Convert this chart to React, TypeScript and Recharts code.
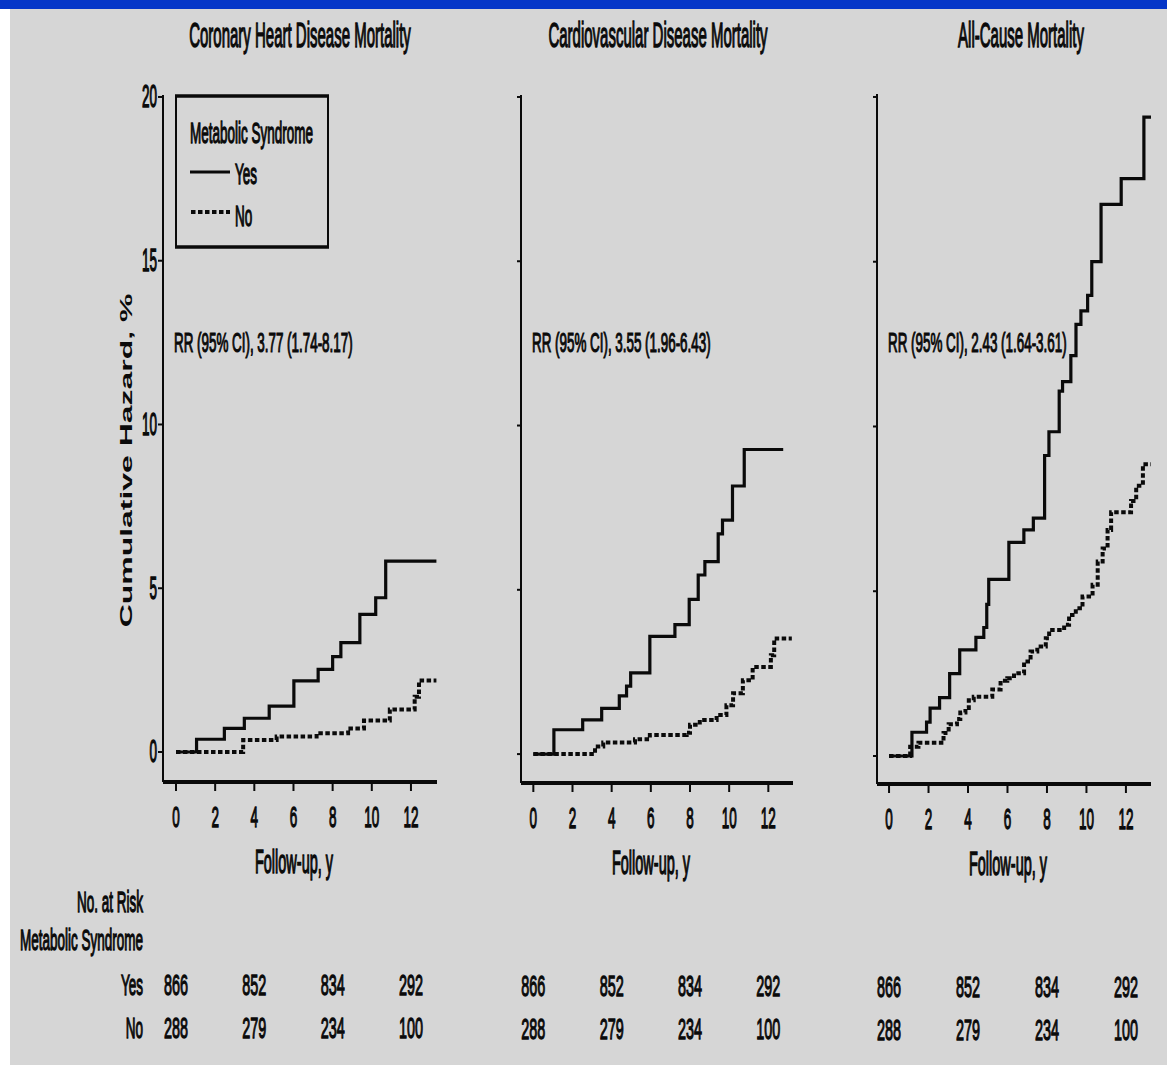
import React from 'react'
import { LineChart, Line, XAxis, YAxis } from 'recharts'

// cumulative hazard (%) step points
const chdYesTime = [0, 1.05, 2.47, 3.49, 4.76, 6.02, 7.26, 8.0, 8.42, 9.39, 10.2, 10.71, 13.3]
const chdYesHaz = [0, 0.39, 0.72, 1.03, 1.4, 2.17, 2.52, 2.91, 3.34, 4.2, 4.71, 5.83, 5.83]
const chdNoTime = [0, 3.43, 5.14, 7.18, 8.79, 9.6, 10.92, 12.19, 12.41, 13.3]
const chdNoHaz = [0, 0.37, 0.47, 0.57, 0.72, 0.96, 1.3, 1.69, 2.18, 2.18]

const cvdYesTime = [0, 1.05, 2.52, 3.49, 4.39, 4.76, 4.97, 5.95, 7.23, 7.96, 8.42, 8.76, 9.44, 9.66, 10.17, 10.77, 12.76]
const cvdYesHaz = [0, 0.74, 1.04, 1.39, 1.77, 2.07, 2.47, 3.58, 3.94, 4.71, 5.45, 5.86, 6.7, 7.12, 8.16, 9.27, 9.27]
const cvdNoTime = [0, 3.15, 3.57, 5.19, 5.95, 7.83, 8.0, 8.5, 9.36, 9.86, 10.2, 10.7, 11.2, 12.13, 12.3, 13.2]
const cvdNoHaz = [0, 0.23, 0.35, 0.45, 0.58, 0.65, 0.89, 1.04, 1.19, 1.49, 1.85, 2.25, 2.65, 3.01, 3.52, 3.52]

const allYesTime = [0, 1.16, 1.9, 2.08, 2.56, 3.07, 3.58, 4.4, 4.8, 4.95, 5.05, 6.07, 6.83, 7.31, 7.88, 8.1, 8.62, 8.79, 9.21, 9.47, 9.72, 10.06, 10.27, 10.74, 11.76, 12.91, 13.37]
const allYesHaz = [0, 0.72, 1.03, 1.45, 1.77, 2.5, 3.22, 3.6, 3.9, 4.6, 5.36, 6.48, 6.86, 7.22, 9.12, 9.84, 11.07, 11.36, 12.15, 13.1, 13.51, 13.98, 15.0, 16.74, 17.52, 19.39, 19.39]
const allNoTime = [0, 1.07, 1.49, 2.76, 3.02, 3.44, 3.61, 3.87, 4.04, 4.29, 5.23, 5.65, 5.99, 6.33, 6.84, 7.17, 7.51, 7.94, 8.11, 8.87, 9.12, 9.46, 9.8, 10.31, 10.57, 10.82, 11.07, 11.25, 12.26, 12.52, 12.86, 13.37]
const allNoHaz = [0, 0.28, 0.4, 0.7, 0.96, 1.12, 1.32, 1.46, 1.69, 1.8, 2.02, 2.28, 2.36, 2.51, 2.87, 3.17, 3.32, 3.57, 3.82, 3.98, 4.28, 4.48, 4.84, 5.2, 5.9, 6.3, 6.86, 7.4, 7.74, 8.2, 8.85, 8.85]

const xTicks = [0, 2, 4, 6, 8, 10, 12]
const yTicks = [0, 5, 10, 15, 20]

// numbers at risk
const riskTimes = [0, 4, 8, 12]
const riskYes = [866, 852, 834, 292]
const riskNo = [288, 279, 234, 100]

const titles = ['Coronary Heart Disease Mortality', 'Cardiovascular Disease Mortality', 'All-Cause Mortality']
const rrLabels = ['RR (95% CI), 3.77 (1.74-8.17)', 'RR (95% CI), 3.55 (1.96-6.43)', 'RR (95% CI), 2.43 (1.64-3.61)']

const FONT = '"Liberation Sans", Arial, Helvetica, sans-serif'
const INK = '#0a0a0a'

const pts = (t: number[], h: number[]) => t.map((x, i) => ({ t: x, h: h[i] }))

// the scan is stretched vertically, so the text is too
function SText({ x, y, size = 13.5, sy = 2.2, anchor = 'start', children }: any) {
  return (
    <text
      transform={`translate(${x},${y}) scale(1,${sy})`}
      fontSize={size}
      fontFamily={FONT}
      textAnchor={anchor}
      fill={INK}
      stroke={INK}
      strokeWidth={0.6}
    >
      {children}
    </text>
  )
}

function XTick(props: any) {
  const { x, y, payload } = props
  const k = riskTimes.indexOf(payload.value)
  return (
    <g>
      <SText x={x} y={y + 36} anchor="middle">{payload.value}</SText>
      {k >= 0 && (
        <>
          <SText x={x} y={y + 204} size={14.4} sy={2.1} anchor="middle">{riskYes[k]}</SText>
          <SText x={x} y={y + 247} size={14.4} sy={2.1} anchor="middle">{riskNo[k]}</SText>
        </>
      )}
    </g>
  )
}

function YTick(props: any) {
  const { x, y, payload } = props
  return <SText x={x} y={y + 10.5} anchor="end" sy={2.3}>{payload.value}</SText>
}

function XTitle(props: any) {
  const vb = props.viewBox
  return <SText x={vb.x + vb.width / 2 - 6} y={vb.y + 91} size={14.5} sy={2.3} anchor="middle">Follow-up, y</SText>
}

function YTitle(props: any) {
  const vb = props.viewBox
  const cx = vb.x + vb.width - 31
  const cy = vb.y + vb.height / 2 + 22
  return (
    <text
      transform={`translate(${cx},${cy}) rotate(-90) scale(1.88,1)`}
      fontSize={17}
      fontWeight="bold"
      fontFamily={FONT}
      textAnchor="middle"
      fill={INK}
    >
      Cumulative Hazard, %
    </text>
  )
}

function Panel({ left, top, yAxisWidth, plotWidth, xDomain, yDomain, yes, no, first }: any) {
  const xAxisHeight = 1065 - 782 - (top === 94 ? 2 : top === 95 && !first ? 1 : 0)
  return (
    <div style={{ position: 'absolute', left, top: 0 }}>
      <LineChart
        width={yAxisWidth + plotWidth + 10}
        height={1065}
        margin={{ top, right: 10, bottom: 0, left: 0 }}
      >
        <XAxis
          type="number"
          dataKey="t"
          domain={xDomain}
          allowDataOverflow
          ticks={xTicks}
          interval={0}
          height={xAxisHeight}
          axisLine={{ stroke: INK, strokeWidth: 4 }}
          tickLine={{ stroke: INK, strokeWidth: 2 }}
          tickSize={9}
          tickMargin={0}
          tick={<XTick />}
          label={<XTitle />}
        />
        <YAxis
          type="number"
          domain={yDomain}
          allowDataOverflow
          ticks={yTicks}
          interval={0}
          width={yAxisWidth}
          axisLine={{ stroke: INK, strokeWidth: 2 }}
          tickLine={{ stroke: INK, strokeWidth: 2 }}
          tickSize={first ? 5 : 4}
          tickMargin={1}
          tick={first ? <YTick /> : () => <g />}
          label={first ? <YTitle /> : undefined}
        />
        <Line
          data={yes}
          dataKey="h"
          type="stepAfter"
          stroke={INK}
          strokeWidth={3.2}
          dot={false}
          isAnimationActive={false}
        />
        <Line
          data={no}
          dataKey="h"
          type="stepAfter"
          stroke={INK}
          strokeWidth={4}
          strokeDasharray="4.5 2.5"
          dot={false}
          isAnimationActive={false}
        />
      </LineChart>
    </div>
  )
}

export default function App() {
  return (
    <div style={{ position: 'absolute', left: 0, top: 0, width: 1167, height: 1065, background: '#d6d6d6', overflow: 'hidden' }}>
      <div style={{ position: 'absolute', left: 0, top: 0, width: 10, height: 1065, background: '#fff' }} />
      <div style={{ position: 'absolute', left: 0, top: 0, width: 1167, height: 9, background: '#0536c8' }} />

      <Panel left={0} top={95} yAxisWidth={163} plotWidth={274} xDomain={[-0.664, 13.33]} yDomain={[-0.916, 20.06]}
        yes={pts(chdYesTime, chdYesHaz)} no={pts(chdNoTime, chdNoHaz)} first />
      <Panel left={501} top={95} yAxisWidth={20} plotWidth={272} xDomain={[-0.63, 13.26]} yDomain={[-0.88, 20.06]}
        yes={pts(cvdYesTime, cvdYesHaz)} no={pts(cvdNoTime, cvdNoHaz)} />
      <Panel left={857} top={94} yAxisWidth={20} plotWidth={274} xDomain={[-0.61, 13.27]} yDomain={[-0.85, 20.09]}
        yes={pts(allYesTime, allYesHaz)} no={pts(allNoTime, allNoHaz)} />

      <svg width={1167} height={1065} style={{ position: 'absolute', left: 0, top: 0, pointerEvents: 'none' }}>
        <SText x={300} y={47} size={15} sy={2.3} anchor="middle">{titles[0]}</SText>
        <SText x={658} y={47} size={15} sy={2.3} anchor="middle">{titles[1]}</SText>
        <SText x={1021} y={47} size={15} sy={2.3} anchor="middle">{titles[2]}</SText>

        <SText x={174} y={352} size={13.4} sy={2.0}>{rrLabels[0]}</SText>
        <SText x={532} y={352} size={13.4} sy={2.0}>{rrLabels[1]}</SText>
        <SText x={888} y={352} size={13.4} sy={2.0}>{rrLabels[2]}</SText>

        {/* legend */}
        <rect x={176} y={96} width={152} height={151} fill="none" stroke={INK} strokeWidth={2} />
        <line x1={175} x2={329} y1={96} y2={96} stroke={INK} strokeWidth={3.5} />
        <line x1={175} x2={329} y1={247} y2={247} stroke={INK} strokeWidth={3.5} />
        <SText x={190} y={143}>Metabolic Syndrome</SText>
        <line x1={190} x2={230} y1={172} y2={172} stroke={INK} strokeWidth={3} />
        <SText x={235} y={184}>Yes</SText>
        <line x1={191} x2={230} y1={212} y2={212} stroke={INK} strokeWidth={4} strokeDasharray="4.5 2.5" />
        <SText x={235} y={226}>No</SText>

        {/* at-risk row labels */}
        <SText x={143} y={912} anchor="end">No. at Risk</SText>
        <SText x={143} y={950} anchor="end">Metabolic Syndrome</SText>
        <SText x={143} y={995} anchor="end">Yes</SText>
        <SText x={143} y={1038} anchor="end">No</SText>
      </svg>
    </div>
  )
}
